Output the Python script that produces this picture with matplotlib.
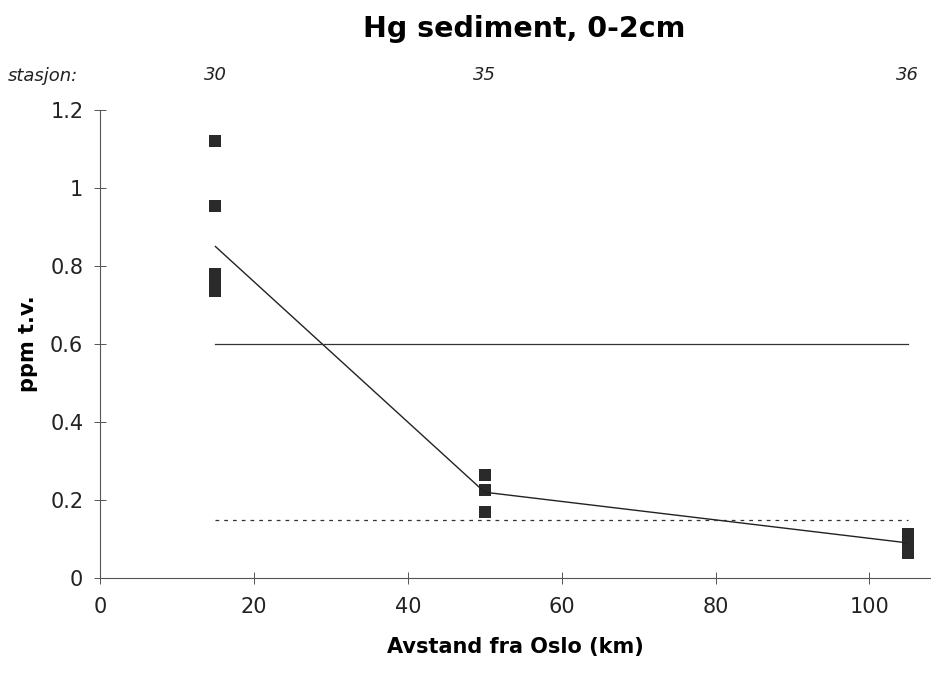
import matplotlib
matplotlib.use('Agg')
import matplotlib.pyplot as plt

# Data
avstand_km = [15, 15, 15, 15, 15, 50, 50, 50, 105, 105, 105, 105]
hg_ppm = [1.12, 0.955, 0.78, 0.755, 0.735, 0.265, 0.225, 0.17, 0.112, 0.095, 0.08, 0.063]

snitt_km = [15, 50, 105]
snitt_ppm = [0.85, 0.22, 0.09]

stasjoner = ['30', '35', '36']

grense_km = [15, 105]
grense_hoy = [0.6, 0.6]
grense_lav = [0.15, 0.15]

fig = plt.figure(figsize=(9.31, 6.81), dpi=100)
ax = fig.add_axes([0.1074, 0.1512, 0.8926, 0.6873])

ax.plot(avstand_km, hg_ppm, linestyle='none', marker='s', markersize=8.5,
        color='#2a2a2a', markeredgewidth=0)
ax.plot(snitt_km, snitt_ppm, color='#222222', linewidth=1.0)
ax.plot(grense_km, grense_hoy, color='#333333', linewidth=0.9)
ax.plot(grense_km, grense_lav, color='#333333', linewidth=0.9, linestyle=(0, (3, 4)))

ax.set_xlim(0, 108)
ax.set_ylim(0, 1.2)
ax.set_xticks([0, 20, 40, 60, 80, 100])
ax.set_yticks([0, 0.2, 0.4, 0.6, 0.8, 1.0, 1.2])
ax.set_yticklabels(['0', '0.2', '0.4', '0.6', '0.8', '1', '1.2'])

for s in ['top', 'right']:
    ax.spines[s].set_visible(False)
for s in ['left', 'bottom']:
    ax.spines[s].set_color('#555555')
    ax.spines[s].set_linewidth(0.8)

ax.tick_params(axis='both', direction='inout', length=8, width=0.7,
               color='#555555', labelsize=15, labelcolor='#222222')
ax.tick_params(axis='x', pad=10)
ax.tick_params(axis='y', pad=8)

ax.set_xlabel('Avstand fra Oslo (km)', fontsize=15, fontweight='bold', labelpad=14)
ax.set_ylabel('ppm t.v.', fontsize=15, fontweight='bold', labelpad=9)

fig.text(0.563, 0.9457, 'Hg sediment, 0-2cm', fontsize=20.5, fontweight='bold',
         ha='center', va='baseline')

# station labels above the plot
for km, st in zip(snitt_km, stasjoner):
    ax.text(km, 1.29, st, fontsize=13, style='italic', ha='center', va='center',
            color='#222222', transform=ax.transData, clip_on=False)
fig.text(0.008, 0.888, 'stasjon:', fontsize=13, style='italic', ha='left', va='center',
         color='#222222')

fig.savefig('out.png', dpi=100)
